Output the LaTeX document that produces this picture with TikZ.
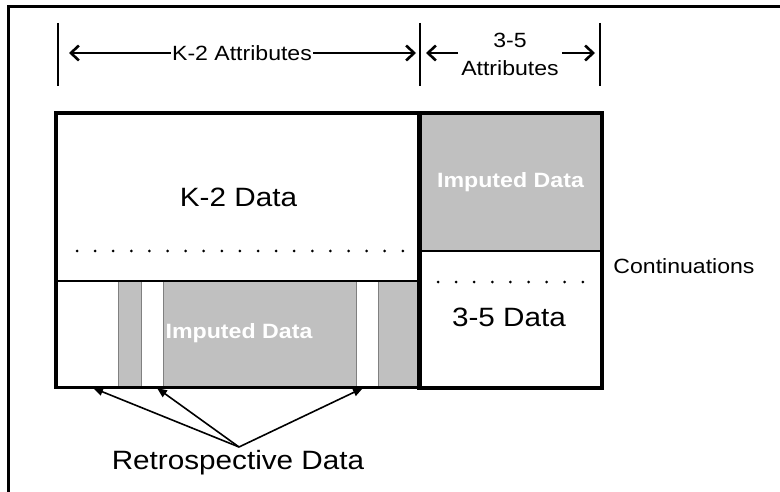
\documentclass[tikz,border=0pt]{standalone}
\usepackage{fontspec}
\setmainfont{Liberation Sans}
\usepackage{graphicx}
\usetikzlibrary{arrows.meta}
\newcommand{\hx}[1]{\scalebox{1.12}[1]{#1}}
\definecolor{imgray}{HTML}{C0C0C0}
\definecolor{edgegray}{HTML}{808080}
\begin{document}
\begin{tikzpicture}[x=1pt,y=-1pt,
  thickline/.style={line width=2.6pt},
  bigtext/.style={font=\fontsize{26.5}{30}\selectfont},
  smalltext/.style={font=\fontsize{20.6}{28}\selectfont},
  imptext/.style={font=\fontsize{20.7}{24}\selectfont\bfseries, text=white},
  whitebox/.style={draw, thickline, fill=white, inner sep=0pt},
  graybox/.style={draw, thickline, fill=imgray, inner sep=0pt},
  stripwhite/.style={fill=white, draw=edgegray, line width=0.8pt, inner sep=0pt, minimum height=106pt},
  bar/.style={line width=2.6pt},
  dimarrow/.style={line width=2.6pt, -{Straight Barb[length=8pt,width=15pt,line width=2.6pt]}},
  retroarrow/.style={line width=1.6pt, -{Triangle[length=10pt,width=8pt]}},
  dotmark/.style={fill=black}
]
\useasboundingbox (0,0) rectangle (780,492);
% frame
\draw[line width=2.2pt] (8.5,492) -- (8.5,6.5) -- (780,6.5);

% lower strip of K-2 columns
\node[fill=imgray, draw=edgegray, line width=0.8pt, inner sep=0pt, minimum width=363pt, minimum height=106pt] (strip) at (238.5,334) {};
\node[stripwhite, minimum width=61pt] (r1) at (87.5,334) {};
\node[stripwhite, minimum width=22pt] (r2) at (152,334) {};
\node[stripwhite, minimum width=22pt] (r3) at (367,334) {};
\draw[edgegray, line width=0.8pt] (118,281) -- (118,387);
\draw[edgegray, line width=0.8pt] (378,281) -- (378,387);
\node[imptext] (impL) at (239,333) {\hx{Imputed Data}};
\draw[thickline] (strip.north west) rectangle (strip.south east);

% K-2 data box
\node[whitebox, minimum width=363pt, minimum height=167pt, bigtext] (k2) at (238.5,197.5) {\hx{K-2 Data}};
\foreach \i in {0,...,18} \fill[dotmark] (77+\i*18.1,251) circle[radius=1.5pt];

% 3-5 column
\node[graybox, minimum width=181pt, minimum height=137pt, imptext] (imp35) at (510.5,182.5) {\hx{Imputed Data}};
\node[whitebox, minimum width=181pt, minimum height=136pt] (d35box) at (510.5,319) {};
\node[bigtext, inner sep=0pt] (d35) at (509,317) {\hx{3-5 Data}};
\foreach \i in {0,...,8} \fill[dotmark] (438+\i*18.1,282) circle[radius=1.5pt];
\draw[thickline] (imp35.north west) rectangle (d35box.south east);
\draw[thickline] (k2.north west) rectangle (strip.south east);

% continuations label
\node[smalltext, inner sep=0pt] (cont) at (684,266) {\hx{Continuations}};

% top dimension bars
\coordinate (b1t) at (58,23);  \coordinate (b1b) at (58,86);
\coordinate (b2t) at (420,23); \coordinate (b2b) at (420,86);
\coordinate (b3t) at (600,23); \coordinate (b3b) at (600,86);
\draw[bar] (b1t) -- (b1b);
\draw[bar] (b2t) -- (b2b);
\draw[bar] (b3t) -- (b3b);

\node[smalltext, inner sep=1pt] (k2attr) at (242,53) {\hx{K-2 Attributes}};
\coordinate (k2L) at (69,53);
\coordinate (k2R) at (416,53);
\draw[dimarrow] (k2attr.west) -- (k2L);
\draw[dimarrow] (k2attr.east) -- (k2R);

\node[smalltext, inner sep=3pt, align=center] (attr35) at (510,54) {\hx{3-5}\\\hx{Attributes}};
\coordinate (a35L) at (426,53);
\coordinate (a35R) at (595,53);
\draw[dimarrow] (attr35.west |- a35L) -- (a35L);
\draw[dimarrow] (attr35.east |- a35R) -- (a35R);

% retrospective data
\node[bigtext, inner sep=0pt] (retro) at (238,463) {\hx{Retrospective Data}};
\coordinate (src) at (239,447);
\coordinate (t1) at (93,388);
\coordinate (t2) at (157,388);
\coordinate (t3) at (363,388);
\draw[retroarrow] (src) -- (t1);
\draw[retroarrow] (src) -- (t2);
\draw[retroarrow] (src) -- (t3);
\end{tikzpicture}
\end{document}
